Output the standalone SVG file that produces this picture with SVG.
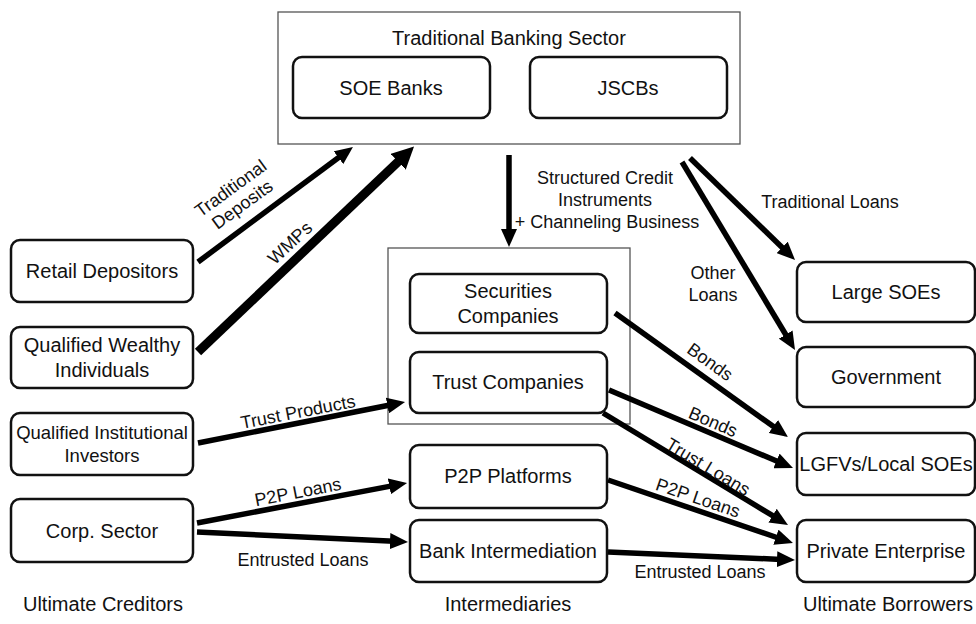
<svg xmlns="http://www.w3.org/2000/svg" width="976" height="624" viewBox="0 0 976 624">
<style>
text{font-family:"Liberation Sans","Helvetica",Arial,sans-serif;fill:#111;text-anchor:middle}
.n{font-size:20px}
.e{font-size:18px}
.node rect{fill:#fff;stroke:#111;stroke-width:2.5}
.grp{fill:none;stroke:#555;stroke-width:1.3}
.c{stroke:#000;stroke-width:5.5;fill:none;marker-end:url(#ah)}
.ct{stroke:#000;stroke-width:9;fill:none;marker-end:url(#ahb)}
</style>
<defs>
<marker id="ah" markerUnits="userSpaceOnUse" markerWidth="20" markerHeight="16" refX="4" refY="8" orient="auto"><path d="M0,0 L18,8 L0,16 z" fill="#000"/></marker>
<marker id="ahb" markerUnits="userSpaceOnUse" markerWidth="24" markerHeight="22" refX="4" refY="11" orient="auto"><path d="M0,0 L22,11 L0,22 z" fill="#000"/></marker>
</defs>
<rect width="976" height="624" fill="#fff"/>

<g id="banking">
<rect class="grp" x="278" y="12" width="462" height="132"/>
<text class="n" x="509" y="45">Traditional Banking Sector</text>
</g>
<g id="soe-banks" class="node"><rect x="293" y="57" width="197" height="61" rx="9"/><text class="n" x="391" y="95">SOE Banks</text></g>
<g id="jscbs" class="node"><rect x="530" y="57" width="197" height="61" rx="9"/><text class="n" x="628" y="95">JSCBs</text></g>

<g id="nonbank"><rect class="grp" x="388" y="248" width="242" height="176"/></g>
<g id="securities" class="node"><rect x="410" y="274" width="197" height="59" rx="9"/><text class="n" x="508" y="298">Securities</text><text class="n" x="508" y="323">Companies</text></g>
<g id="trust" class="node"><rect x="410" y="352" width="197" height="61" rx="9"/><text class="n" x="508" y="389">Trust Companies</text></g>
<g id="p2p" class="node"><rect x="410" y="445" width="197" height="63" rx="9"/><text class="n" x="508" y="483">P2P Platforms</text></g>
<g id="bankint" class="node"><rect x="410" y="520" width="197" height="62" rx="9"/><text class="n" x="508" y="558">Bank Intermediation</text></g>

<g id="retail" class="node"><rect x="11" y="240" width="182" height="62" rx="9"/><text class="n" x="102" y="278">Retail Depositors</text></g>
<g id="wealthy" class="node"><rect x="11" y="327" width="182" height="61" rx="9"/><text class="n" x="102" y="352">Qualified Wealthy</text><text class="n" x="102" y="377">Individuals</text></g>
<g id="institutional" class="node"><rect x="11" y="413" width="182" height="62" rx="9"/><text class="n" x="102" y="439" style="font-size:18.5px">Qualified Institutional</text><text class="n" x="102" y="462" style="font-size:18.5px">Investors</text></g>
<g id="corp" class="node"><rect x="11" y="499" width="182" height="63" rx="9"/><text class="n" x="102" y="538">Corp. Sector</text></g>

<g id="large-soes" class="node"><rect x="797" y="262" width="178" height="60" rx="9"/><text class="n" x="886" y="299">Large SOEs</text></g>
<g id="government" class="node"><rect x="797" y="347" width="178" height="60" rx="9"/><text class="n" x="886" y="384">Government</text></g>
<g id="lgfv" class="node"><rect x="797" y="433" width="178" height="62" rx="9"/><text class="n" x="886" y="471">LGFVs/Local SOEs</text></g>
<g id="private" class="node"><rect x="797" y="520" width="178" height="62" rx="9"/><text class="n" x="886" y="558">Private Enterprise</text></g>

<g id="connectors">
<line class="c" x1="198" y1="262" x2="341.7" y2="155.3"/>
<line class="ct" x1="198" y1="352" x2="401" y2="159"/>
<line class="c" x1="509" y1="155" x2="509" y2="233"/>
<line class="c" x1="690" y1="158" x2="785" y2="250.2"/>
<line class="c" x1="682" y1="162" x2="787.8" y2="338"/>
<line class="c" x1="615" y1="313" x2="776.6" y2="428.8"/>
<line class="c" x1="609" y1="390" x2="780.1" y2="462.5"/>
<line class="c" x1="603" y1="413" x2="776" y2="517.7"/>
<line class="c" x1="608" y1="480" x2="779.7" y2="538.5"/>
<line class="c" x1="608" y1="552" x2="781" y2="559.4"/>
<line class="c" x1="198" y1="443" x2="391.3" y2="404.7"/>
<line class="c" x1="197" y1="523" x2="393.3" y2="485.6"/>
<line class="c" x1="197" y1="532" x2="394" y2="541.3"/>
</g>

<g id="labels">
<text class="e" transform="translate(236.5,196.5) rotate(-36)"><tspan x="0" y="-4">Traditional</tspan><tspan x="0" y="16">Deposits</tspan></text>
<text class="e" transform="translate(290,243) rotate(-43)" y="6">WMPs</text>
<text class="e" x="605" y="184">Structured Credit</text>
<text class="e" x="605" y="206">Instruments</text>
<text class="e" x="607" y="228">+ Channeling Business</text>
<text class="e" x="830" y="208">Traditional Loans</text>
<text class="e" x="713" y="279">Other</text>
<text class="e" x="713" y="301">Loans</text>
<text class="e" transform="translate(710,362) rotate(35.6)" y="6">Bonds</text>
<text class="e" transform="translate(713,422) rotate(23)" y="6">Bonds</text>
<text class="e" transform="translate(708,467) rotate(31)" y="6">Trust Loans</text>
<text class="e" transform="translate(698,498) rotate(19)" y="6">P2P Loans</text>
<text class="e" transform="translate(298,412) rotate(-11)" y="6">Trust Products</text>
<text class="e" transform="translate(298,492) rotate(-11)" y="6">P2P Loans</text>
<text class="e" x="303" y="566">Entrusted Loans</text>
<text class="e" x="700" y="578">Entrusted Loans</text>
<text class="n" x="103" y="611">Ultimate Creditors</text>
<text class="n" x="508" y="611">Intermediaries</text>
<text class="n" x="888" y="611">Ultimate Borrowers</text>
</g>
</svg>
